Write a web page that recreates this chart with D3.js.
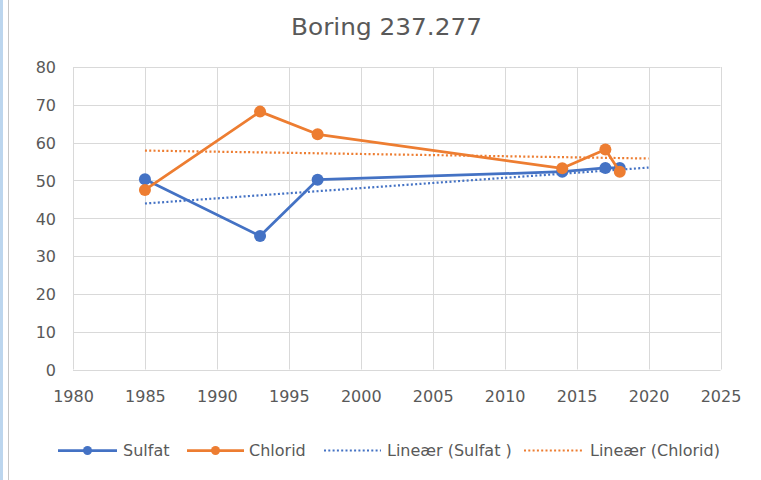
<!DOCTYPE html>
<html>
<head>
<meta charset="utf-8">
<script src="https://cdn.jsdelivr.net/npm/d3@7/dist/d3.min.js"></script>
<style>
  body { margin: 0; background: #fff; }
  svg { display: block; font-family: "DejaVu Sans", sans-serif; }
</style>
</head>
<body>
<div id="chart"></div>
<script>
// data
const years = [1985, 1993, 1997, 2014, 2017, 2018];
const sulfat = [50.3, 35.3, 50.2, 52.3, 53.3, 53.3];
const chlorid = [47.5, 68.2, 62.2, 53.2, 58.2, 52.3];
// trendline end points (Lineær) as seen in the picture
const trendYears = [1985, 2020];
const sulfatTrend = [43.9, 53.4];
const chloridTrend = [57.9, 55.8];
const xTicks = [1980, 1985, 1990, 1995, 2000, 2005, 2010, 2015, 2020, 2025];
const yTicks = [0, 10, 20, 30, 40, 50, 60, 70, 80];
const legendLabels = ['Sulfat', 'Chlorid', 'Lineær (Sulfat )', 'Lineær (Chlorid)'];

const width = 761, height = 480;
const blue = '#4472C4', orange = '#ED7D31';
const textColor = '#595959', gridColor = '#D9D9D9';

const svg = d3.select('#chart').append('svg')
  .attr('width', width)
  .attr('height', height);

// worksheet edge on the left
svg.append('rect').attr('x', 0).attr('y', 0).attr('width', 3).attr('height', height).attr('fill', '#bcd6ee');
svg.append('line').attr('x1', 8.5).attr('x2', 8.5).attr('y1', 0).attr('y2', height)
  .attr('stroke', '#c6c6c6').attr('stroke-width', 1);

const x = d3.scaleLinear().domain([1980, 2025]).range([73, 720.5]);
const y = d3.scaleLinear().domain([0, 80]).range([369.5, 67]);

// title
svg.append('text')
  .attr('x', 386.5).attr('y', 35)
  .attr('text-anchor', 'middle')
  .attr('fill', textColor)
  .style('font-size', '23px')
  .attr('textLength', 191)
  .attr('lengthAdjust', 'spacingAndGlyphs')
  .text('Boring 237.277');

// grid
const grid = svg.append('g');
grid.selectAll('.hg').data(yTicks).enter().append('line')
  .attr('x1', x(1980)).attr('x2', x(2025))
  .attr('y1', d => Math.round(y(d)) + 0.5).attr('y2', d => Math.round(y(d)) + 0.5)
  .attr('stroke', gridColor);
grid.selectAll('.vg').data(xTicks).enter().append('line')
  .attr('x1', d => Math.round(x(d)) + 0.5).attr('x2', d => Math.round(x(d)) + 0.5)
  .attr('y1', y(80)).attr('y2', y(0))
  .attr('stroke', gridColor);

// axes
const yAxis = svg.append('g')
  .attr('transform', `translate(${x(1980) - 17},0)`)
  .call(d3.axisLeft(y).tickValues(yTicks).tickSize(0).tickPadding(0));
const xAxis = svg.append('g')
  .attr('transform', `translate(0,402)`)
  .call(d3.axisBottom(x).tickValues(xTicks).tickFormat(d3.format('d')).tickSize(0).tickPadding(0));
[yAxis, xAxis].forEach(a => {
  a.select('.domain').remove();
  a.selectAll('text')
    .attr('fill', textColor)
    .style('font-size', '16px')
    .style('font-family', '"DejaVu Sans", sans-serif');
});
yAxis.selectAll('text').attr('dy', '0.36em');
xAxis.selectAll('text').attr('y', 0).attr('dy', 0);

// trendlines
const line = d3.line().x(d => x(d[0])).y(d => y(d[1]));
const trends = [[sulfatTrend, blue], [chloridTrend, orange]];
trends.forEach(([vals, col]) => {
  svg.append('path')
    .attr('d', line(trendYears.map((yr, i) => [yr, vals[i]])))
    .attr('fill', 'none')
    .attr('stroke', col)
    .attr('stroke-width', 2.2)
    .attr('stroke-dasharray', '2,2.3');
});

// series
const series = [[sulfat, blue], [chlorid, orange]];
series.forEach(([vals, col]) => {
  const pts = years.map((yr, i) => [yr, vals[i]]);
  svg.append('path')
    .attr('d', line(pts))
    .attr('fill', 'none')
    .attr('stroke', col)
    .attr('stroke-width', 2.75)
    .attr('stroke-linejoin', 'round');
  svg.selectAll(null).data(pts).enter().append('circle')
    .attr('cx', d => x(d[0])).attr('cy', d => y(d[1]))
    .attr('r', 6)
    .attr('fill', col);
});

// legend
const legendY = 450.5;
const legendItems = [
  { x0: 58, x1: 117, tx: 123, color: blue, dotted: false },
  { x0: 187, x1: 244, tx: 249, color: orange, dotted: false },
  { x0: 324, x1: 381, tx: 387, color: blue, dotted: true },
  { x0: 524, x1: 582, tx: 590, color: orange, dotted: true }
];
const lg = svg.append('g');
legendItems.forEach((it, i) => {
  lg.append('line')
    .attr('x1', it.x0).attr('x2', it.x1)
    .attr('y1', legendY).attr('y2', legendY)
    .attr('stroke', it.color)
    .attr('stroke-width', it.dotted ? 2.2 : 2.75)
    .attr('stroke-dasharray', it.dotted ? '2,2.3' : null);
  if (!it.dotted) {
    lg.append('circle')
      .attr('cx', (it.x0 + it.x1) / 2).attr('cy', legendY)
      .attr('r', 4.5).attr('fill', it.color);
  }
  lg.append('text')
    .attr('x', it.tx).attr('y', legendY)
    .attr('dy', '0.36em')
    .attr('fill', textColor)
    .style('font-size', '16px')
    .text(legendLabels[i]);
});
</script>
</body>
</html>
